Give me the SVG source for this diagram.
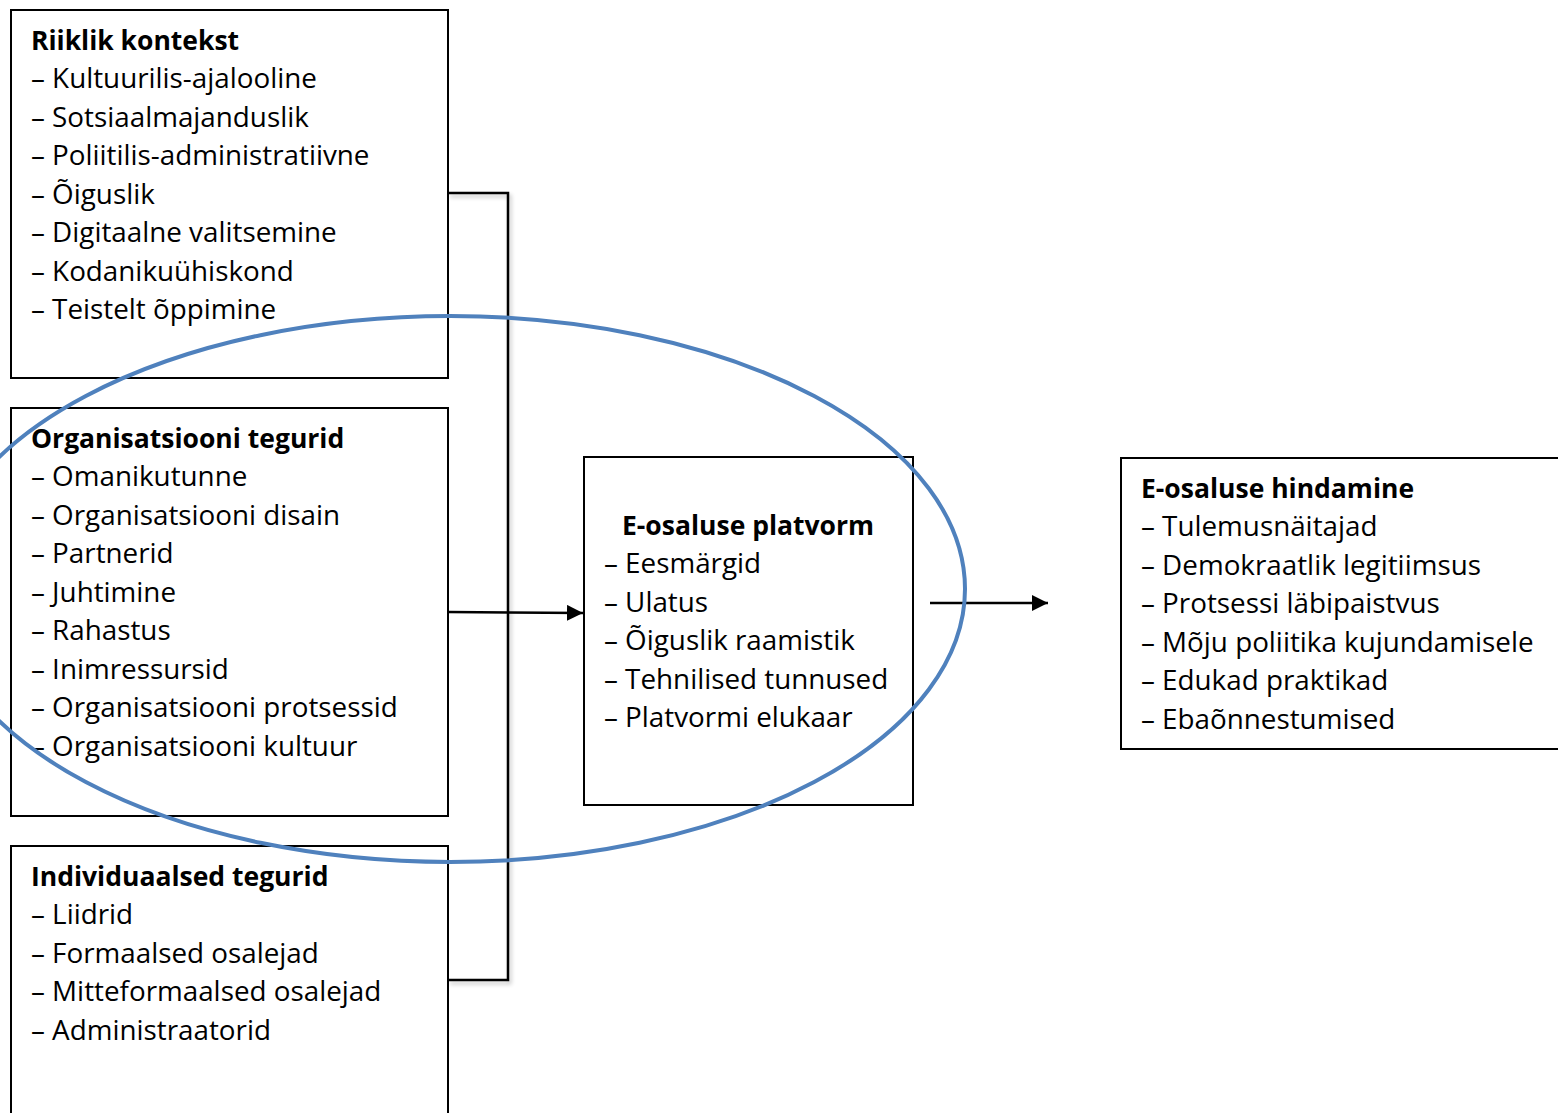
<svg xmlns="http://www.w3.org/2000/svg" width="1558" height="1113" viewBox="0 0 1558 1113">
<style>
.box{fill:#fff;stroke:#000;stroke-width:2}
.t{font-family:"Open Sans","Noto Sans",sans-serif;font-size:27.8px;fill:#000}
.h{font-weight:bold;font-size:26.5px}
.con{fill:none;stroke:#000;stroke-width:2.5}
</style>
<defs>
<marker id="arr" viewBox="0 0 16 16" markerWidth="16" markerHeight="16" refX="16" refY="8" orient="auto" markerUnits="userSpaceOnUse"><path d="M0,0 L16,8 L0,16 Z" fill="#000"/></marker>
<filter id="sh" x="-10%" y="-10%" width="130%" height="130%"><feGaussianBlur in="SourceAlpha" stdDeviation="2"/><feOffset dx="2" dy="3"/><feComponentTransfer><feFuncA type="linear" slope="0.25"/></feComponentTransfer><feMerge><feMergeNode/><feMergeNode in="SourceGraphic"/></feMerge></filter>
</defs>
<g id="riiklik">
<rect class="box" x="11" y="10" width="437" height="368"/>
<text class="t h" x="31" y="50">Riiklik kontekst</text>
<text class="t" x="31" y="88">– Kultuurilis-ajalooline</text>
<text class="t" x="31" y="127">– Sotsiaalmajanduslik</text>
<text class="t" x="31" y="165">– Poliitilis-administratiivne</text>
<text class="t" x="31" y="204">– Õiguslik</text>
<text class="t" x="31" y="242">– Digitaalne valitsemine</text>
<text class="t" x="31" y="281">– Kodanikuühiskond</text>
<text class="t" x="31" y="319">– Teistelt õppimine</text>
</g>
<g id="organisatsioon">
<rect class="box" x="11" y="408" width="437" height="408"/>
<text class="t h" x="31" y="448">Organisatsiooni tegurid</text>
<text class="t" x="31" y="486">– Omanikutunne</text>
<text class="t" x="31" y="525">– Organisatsiooni disain</text>
<text class="t" x="31" y="563">– Partnerid</text>
<text class="t" x="31" y="602">– Juhtimine</text>
<text class="t" x="31" y="640">– Rahastus</text>
<text class="t" x="31" y="679">– Inimressursid</text>
<text class="t" x="31" y="717">– Organisatsiooni protsessid</text>
<text class="t" x="31" y="756">– Organisatsiooni kultuur</text>
</g>
<g id="individuaalsed">
<rect class="box" x="11" y="846" width="437" height="280"/>
<text class="t h" x="31" y="886">Individuaalsed tegurid</text>
<text class="t" x="31" y="924">– Liidrid</text>
<text class="t" x="31" y="963">– Formaalsed osalejad</text>
<text class="t" x="31" y="1001">– Mitteformaalsed osalejad</text>
<text class="t" x="31" y="1040">– Administraatorid</text>
</g>
<g id="platvorm">
<rect class="box" x="584" y="457" width="329" height="348"/>
<text class="t h" x="622" y="535">E-osaluse platvorm</text>
<text class="t" x="604" y="573">– Eesmärgid</text>
<text class="t" x="604" y="612">– Ulatus</text>
<text class="t" x="604" y="650">– Õiguslik raamistik</text>
<text class="t" x="604" y="689">– Tehnilised tunnused</text>
<text class="t" x="604" y="727">– Platvormi elukaar</text>
</g>
<g id="hindamine">
<rect class="box" x="1121" y="458" width="450" height="291"/>
<text class="t h" x="1141" y="498">E-osaluse hindamine</text>
<text class="t" x="1141" y="536">– Tulemusnäitajad</text>
<text class="t" x="1141" y="575">– Demokraatlik legitiimsus</text>
<text class="t" x="1141" y="613">– Protsessi läbipaistvus</text>
<text class="t" x="1141" y="652">– Mõju poliitika kujundamisele</text>
<text class="t" x="1141" y="690">– Edukad praktikad</text>
<text class="t" x="1141" y="729">– Ebaõnnestumised</text>
</g>
<g id="connectors">
<polyline class="con" filter="url(#sh)" points="448,193 508,193 508,980 448,980"/>
<line class="con" x1="448" y1="612" x2="583" y2="613" marker-end="url(#arr)"/>
<line class="con" x1="930" y1="603" x2="1048" y2="603" marker-end="url(#arr)"/>
</g>
<g id="ellipse">
<ellipse cx="450" cy="589" rx="515" ry="273" fill="none" stroke="#4F81BD" stroke-width="4"/>
</g>
</svg>
